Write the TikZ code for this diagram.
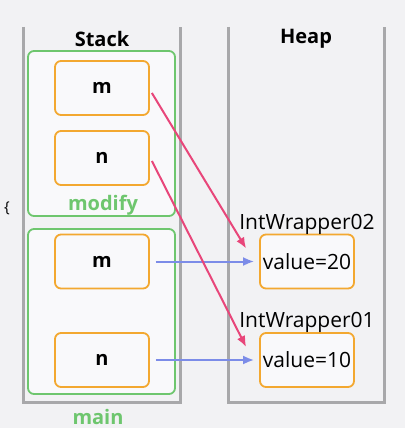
\documentclass[tikz,border=0pt]{standalone}
\usepackage{fontspec}
\setmainfont{Open Sans}
\usetikzlibrary{arrows.meta,positioning}
\definecolor{bgray}{RGB}{242,242,244}
\definecolor{paper}{RGB}{249,249,251}
\definecolor{wall}{RGB}{168,168,170}
\definecolor{frgreen}{RGB}{110,198,110}
\definecolor{varorange}{RGB}{243,168,48}
\definecolor{refpink}{RGB}{232,70,122}
\definecolor{refblue}{RGB}{124,140,232}

\begin{document}
\begin{tikzpicture}[x=1pt, y=-1pt,
        frame/.style={draw=frgreen, line width=1.8pt, fill=paper, rounded corners=6pt,
          minimum width=147pt, minimum height=165pt},
        var/.style={draw=varorange, line width=1.8pt, fill=paper, rounded corners=6pt,
          minimum width=94pt, minimum height=54pt, inner sep=2pt, font=\fontsize{20}{23}\selectfont\bfseries},
        obj/.style={var, font=\fontsize{21}{24}\selectfont},
        title/.style={font=\fontsize{20}{23}\selectfont\bfseries},
        framelabel/.style={text=frgreen, font=\fontsize{20}{23}\selectfont\bfseries},
        objlabel/.style={font=\fontsize{21}{24}\selectfont},
        column/.style={draw=wall, line width=3pt},
        ptr/.style={-{Latex[length=11pt,width=9pt]}, line width=2pt}
      ]
      \fill[bgray] (0,0) rectangle (405,428);
      \useasboundingbox (0,0) rectangle (405,428);

      % columns
      \draw[column] (23,27) -- (23,402) -- (180,402) -- (180,27);
      \draw[column] (228,27) -- (228,402) -- (384,402) -- (384,27);
      \node[title] (stack) at (102,39) {Stack};
      \node[title] (heap) at (306,39) {Heap};
      \node[font=\fontsize{15}{16}\selectfont] (brace) at (7,208) {\{};

      % frames
      \node[frame] (modify) at (101.5,133.5) {};
      \node[frame] (main) at (101.5,311.5) {};
      \node[framelabel] (modifylbl) at (103,205) {modify};
      \node[framelabel] (mainlbl) at (98,417) {main};

      % stack variables
      \node[var] (modm) at (102,88) {m};
      \node[var] (modn) at (102,158) {n};
      \node[var] (mainm) at (102,261.5) {m};
      \node[var] (mainn) at (102,360) {n};

      % heap objects
      \node[obj] (val20) at (307,261.5) {value=20};
      \node[obj] (val10) at (307,360) {value=10};
      \node[objlabel, above=-4pt of val20] (wrap02) {IntWrapper02};
      \node[objlabel, above=-4pt of val10] (wrap01) {IntWrapper01};

      \draw[ptr, draw=refblue, fill=refblue, shorten <=6pt, shorten >=5pt] (mainm) -- (val20);
      \draw[ptr, draw=refblue, fill=refblue, shorten <=6pt, shorten >=5pt] (mainn) -- (val10);
      \draw[ptr, draw=refpink, fill=refpink] ([xshift=2pt,yshift=-5pt]modm.east) -- ([xshift=-13pt,yshift=13pt]val20.west);
      \draw[ptr, draw=refpink, fill=refpink] ([xshift=2pt,yshift=-3pt]modn.east) -- ([xshift=-13pt,yshift=13pt]val10.west);
    \end{tikzpicture}
\end{document}
